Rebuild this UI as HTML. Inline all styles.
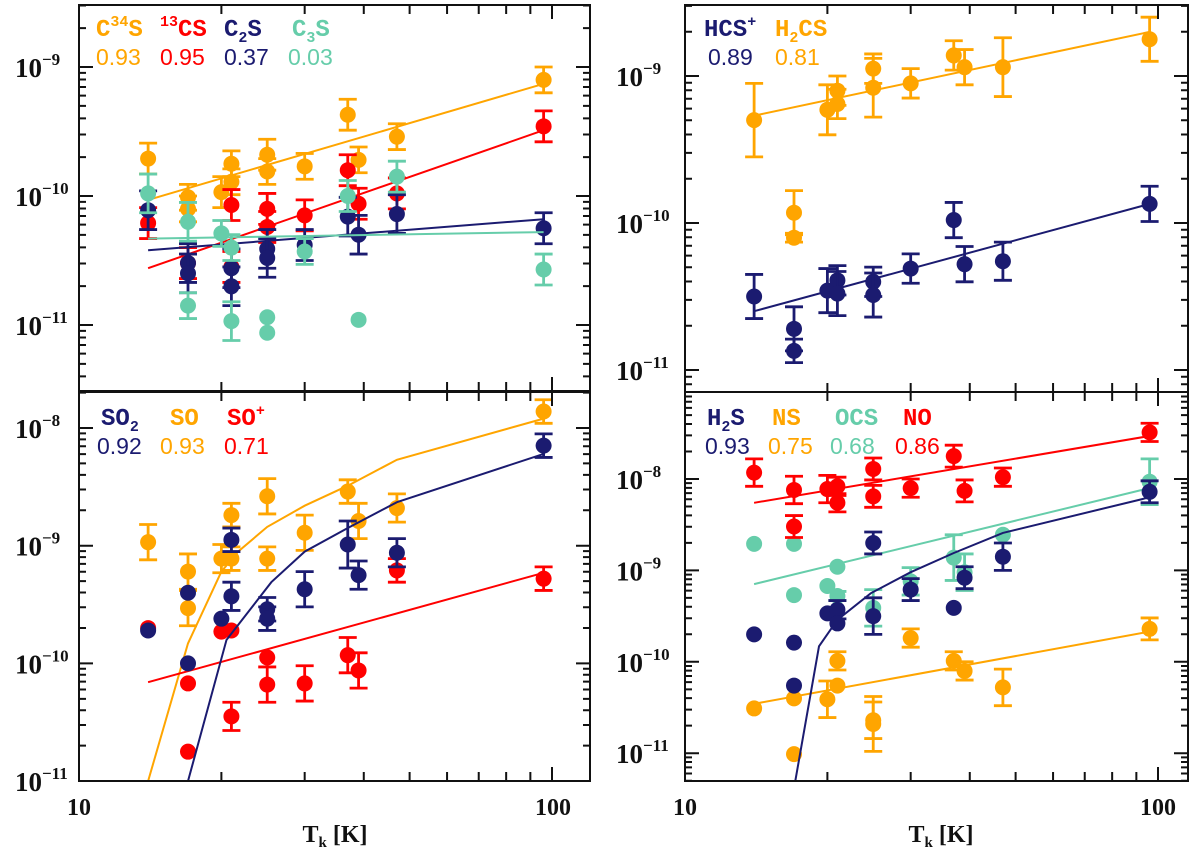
<!DOCTYPE html>
<html><head><meta charset="utf-8"><style>
html,body{margin:0;padding:0;background:#fff;}
svg{display:block;}
.nm{font-family:"Liberation Mono",monospace;font-size:24px;font-weight:bold;}
.num{font-family:"Liberation Sans",sans-serif;font-size:23px;}
.tick{font-family:"Liberation Serif",serif;font-weight:bold;font-size:24px;fill:#111;}
.ytick{font-family:"Liberation Serif",serif;font-weight:bold;font-size:27px;fill:#111;}
</style></head><body>
<svg id="chart" width="1200" height="852" viewBox="0 0 1200 852" xmlns="http://www.w3.org/2000/svg">
<g id="marks"></g>
<g id="legend">
 <text class="nm" x="96" y="36" fill="#FFA500">C<tspan dy="-10" font-size="15">34</tspan><tspan dy="10">S</tspan></text>
 <text class="nm" x="160" y="36" fill="#FF0000"><tspan dy="-10" font-size="15">13</tspan><tspan dy="10">CS</tspan></text>
 <text class="nm" x="224" y="36" fill="#1B1B70">C<tspan dy="6" font-size="15">2</tspan><tspan dy="-6">S</tspan></text>
 <text class="nm" x="292" y="36" fill="#66CDAA">C<tspan dy="6" font-size="15">3</tspan><tspan dy="-6">S</tspan></text>
 <text class="num" x="96" y="65" fill="#FFA500">0.93</text>
 <text class="num" x="160" y="65" fill="#FF0000">0.95</text>
 <text class="num" x="224" y="65" fill="#1B1B70">0.37</text>
 <text class="num" x="288" y="65" fill="#66CDAA">0.03</text>

 <text class="nm" x="704" y="36" fill="#1B1B70">HCS<tspan dy="-10" font-size="15">+</tspan></text>
 <text class="nm" x="775" y="36" fill="#FFA500">H<tspan dy="6" font-size="15">2</tspan><tspan dy="-6">CS</tspan></text>
 <text class="num" x="708" y="65" fill="#1B1B70">0.89</text>
 <text class="num" x="775" y="65" fill="#FFA500">0.81</text>

 <text class="nm" x="101" y="425" fill="#1B1B70">SO<tspan dy="6" font-size="15">2</tspan></text>
 <text class="nm" x="170" y="425" fill="#FFA500">SO</text>
 <text class="nm" x="227" y="425" fill="#FF0000">SO<tspan dy="-10" font-size="15">+</tspan></text>
 <text class="num" x="97" y="454" fill="#1B1B70">0.92</text>
 <text class="num" x="160" y="454" fill="#FFA500">0.93</text>
 <text class="num" x="224" y="454" fill="#FF0000">0.71</text>

 <text class="nm" x="707" y="425" fill="#1B1B70">H<tspan dy="6" font-size="15">2</tspan><tspan dy="-6">S</tspan></text>
 <text class="nm" x="772" y="425" fill="#FFA500">NS</text>
 <text class="nm" x="835" y="425" fill="#66CDAA">OCS</text>
 <text class="nm" x="903" y="425" fill="#FF0000">NO</text>
 <text class="num" x="705" y="454" fill="#1B1B70">0.93</text>
 <text class="num" x="768" y="454" fill="#FFA500">0.75</text>
 <text class="num" x="830" y="454" fill="#66CDAA">0.68</text>
 <text class="num" x="895" y="454" fill="#FF0000">0.86</text>
</g>
<text class="tick" x="79" y="815" text-anchor="middle">10</text>
<text class="tick" x="553" y="815" text-anchor="middle">100</text>
<text class="tick" x="685" y="815" text-anchor="middle">10</text>
<text class="tick" x="1158" y="815" text-anchor="middle">100</text>
<text class="tick" x="335" y="842" text-anchor="middle">T<tspan dy="5" font-size="15">k</tspan><tspan dy="-5"> [K]</tspan></text>
<text class="tick" x="941" y="842" text-anchor="middle">T<tspan dy="5" font-size="15">k</tspan><tspan dy="-5"> [K]</tspan></text>
</svg>
<script>
// ---- data (log10 abundance vs kinetic temperature) ----
const c34sT=[14,17,17,20,21,21,25,25,30,37,39,47,96];
const c34sY=[-9.71,-10.01,-10.10,-9.97,-9.75,-9.89,-9.68,-9.81,-9.77,-9.37,-9.72,-9.54,-9.10];
const c34sE=[0.12,0.1,0.1,0.12,0.1,0.1,0.12,0.1,0.1,0.12,0.1,0.1,0.1];
const c34sFitT=[14,96]; const c34sFitY=[-10.03,-9.13];
const cs13T=[14,17,21,21,25,25,30,37,39,47,96];
const cs13Y=[-10.21,-10.52,-10.07,-10.55,-10.10,-10.24,-10.15,-9.80,-10.06,-9.98,-9.46];
const cs13E=[0.12,0.12,0.12,0.12,0.12,0.12,0.12,0.12,0.12,0.12,0.12];
const cs13FitT=[14,96]; const cs13FitY=[-10.56,-9.49];
const c2sT=[14,17,17,21,21,25,25,30,37,39,47,96];
const c2sY=[-10.11,-10.52,-10.60,-10.56,-10.70,-10.41,-10.48,-10.38,-10.16,-10.30,-10.14,-10.25];
const c2sE=[0.15,0.15,0.15,0.15,0.15,0.15,0.15,0.12,0.15,0.15,0.15,0.12];
const c2sFitT=[14,96]; const c2sFitY=[-10.42,-10.18];
const c3sT=[14,17,17,20,21,21,25,25,30,37,39,47,96];
const c3sY=[-9.98,-10.20,-10.85,-10.29,-10.40,-10.97,-10.94,-11.06,-10.43,-10.00,-10.96,-9.85,-10.57];
const c3sE=[0.15,0.15,0.1,0.1,0.1,0.15,0,0,0.1,0.12,0,0.12,0.12];
const c3sFitT=[14,96]; const c3sFitY=[-10.33,-10.28];

const h2csT=[14,17,17,20,21,21,25,25,30,37,39,47,96];
const h2csY=[-9.30,-9.93,-10.10,-9.23,-9.10,-9.19,-8.95,-9.08,-9.05,-8.86,-8.94,-8.94,-8.75];
const h2csE=[0.25,0.15,0.03,0.17,0.1,0.1,0.1,0.2,0.1,0.1,0.12,0.2,0.15];
const h2csFitT=[14,96]; const h2csFitY=[-9.27,-8.70];
const hcsT=[14,17,17,20,21,21,25,25,30,37,39,47,96];
const hcsY=[-10.50,-10.72,-10.87,-10.46,-10.39,-10.48,-10.40,-10.49,-10.31,-9.98,-10.28,-10.26,-9.87];
const hcsE=[0.15,0.15,0.08,0.15,0.1,0.15,0.1,0.15,0.1,0.12,0.12,0.13,0.12];
const hcsFitT=[14,96]; const hcsFitY=[-10.60,-9.87];

const so2T=[14,17,17,20,21,21,25,25,30,37,39,47,96];
const so2Y=[-9.72,-9.40,-10.00,-9.62,-8.95,-9.43,-9.54,-9.62,-9.37,-8.99,-9.25,-9.06,-8.15];
const so2E=[0,0,0,0,0.1,0.12,0.1,0.1,0.15,0.2,0.12,0.12,0.1];
const so2FitT=[14,17,20.5,25.5,30,37,47,96]; const so2FitY=[-11.0,-11.0,-9.80,-9.31,-9.05,-8.85,-8.63,-8.22];
const soT=[14,17,17,20,21,21,25,25,30,37,39,47,96];
const soY=[-8.97,-9.22,-9.53,-9.11,-8.74,-9.11,-8.58,-9.11,-8.89,-8.54,-8.79,-8.68,-7.86];
const soE=[0.15,0.15,0.15,0.12,0.1,0.1,0.15,0.1,0.15,0.1,0.15,0.12,0.1];
const soFitT=[14,17,20,21.7,25,30,37,47,96]; const soFitY=[-11.0,-9.83,-9.22,-9.05,-8.84,-8.66,-8.49,-8.27,-7.92];
const sopT=[14,17,17,20,21,21,25,25,30,37,39,47,96];
const sopY=[-9.70,-10.17,-10.75,-9.73,-9.72,-10.45,-9.95,-10.18,-10.17,-9.93,-10.06,-9.21,-9.28];
const sopE=[0,0,0,0,0,0.12,0,0.15,0.15,0.15,0.15,0.1,0.1];
const sopFitT=[14,96]; const sopFitY=[-10.16,-9.23];

const noT=[14,17,17,20,21,21,25,25,30,37,39,47,96];
const noY=[-7.93,-8.12,-8.52,-8.11,-8.08,-8.26,-7.89,-8.19,-8.10,-7.75,-8.13,-7.98,-7.49];
const noE=[0.15,0.15,0.12,0.15,0.1,0.1,0.12,0.12,0.1,0.12,0.12,0.1,0.1];
const noFitT=[14,96]; const noFitY=[-8.26,-7.53];
const ocsT=[14,17,17,20,21,21,25,30,37,39,47,96];
const ocsY=[-8.71,-8.71,-9.27,-9.17,-8.96,-9.28,-9.41,-9.12,-8.86,-9.02,-8.61,-8.03];
const ocsE=[0,0,0,0,0,0.05,0.2,0.15,0.25,0.2,0,0.25];
const ocsFitT=[14,96]; const ocsFitY=[-9.15,-8.10];
const h2sT=[14,17,17,20,21,21,25,25,30,37,39,47,96];
const h2sY=[-9.70,-9.79,-10.26,-9.47,-9.43,-9.58,-8.70,-9.50,-9.21,-9.41,-9.08,-8.85,-8.14];
const h2sE=[0,0,0,0,0.1,0,0.12,0.2,0.12,0,0.12,0.15,0.12];
const h2sFitT=[14,17.1,19.2,21,24.7,30,37,47,96]; const h2sFitY=[-11.31,-11.31,-9.83,-9.54,-9.25,-9.02,-8.81,-8.59,-8.20];
const nsT=[14,17,17,20,21,21,25,25,30,37,39,47,96];
const nsY=[-10.51,-10.40,-11.01,-10.41,-9.99,-10.26,-10.64,-10.68,-9.74,-9.99,-10.10,-10.28,-9.64];
const nsE=[0,0,0,0.2,0.1,0,0.2,0.3,0.1,0.1,0.1,0.2,0.12];
const nsFitT=[14,96]; const nsFitY=[-10.46,-9.67];

const ORANGE='#FFA500', RED='#FF0000', NAVY='#1B1B70', TEAL='#66CDAA';
const NS='http://www.w3.org/2000/svg';
const root=document.getElementById('marks');
function mk(tag,attrs,parent){const e=document.createElementNS(NS,tag);for(const k in attrs)e.setAttribute(k,attrs[k]);(parent||root).appendChild(e);return e;}

const panels=[
 {key:'top-left',x0:79,x1:590,y0:5,y1:391,ref:67,refLog:-9,dec:129,minL:-12,maxL:-8,labels:[-9,-10,-11],lx:62},
 {key:'top-right',x0:685,x1:1188,y0:5,y1:392,ref:76,refLog:-9,dec:147,minL:-12,maxL:-8,labels:[-9,-10,-11],lx:663},
 {key:'bottom-left',x0:79,x1:590,y0:392,y1:781,ref:428,refLog:-8,dec:117.7,minL:-11,maxL:-7,labels:[-8,-9,-10,-11],lx:62},
 {key:'bottom-right',x0:685,x1:1188,y0:392,y1:781,ref:479,refLog:-8,dec:91.4,minL:-12,maxL:-7,labels:[-8,-9,-10,-11],lx:663}
];
panels.forEach(p=>{p.sx=t=>p.x0+473*Math.log10(t/10);p.sy=l=>p.ref-(l-p.refLog)*p.dec;});

function drawPanel(p,series){
 const g=mk('g',{});
 
 
 const cid='clip-'+p.key;
 const cp=mk('clipPath',{id:cid},g);mk('rect',{x:p.x0,y:p.y0,width:p.x1-p.x0,height:p.y1-p.y0},cp);
 const plot=mk('g',{'clip-path':'url(#'+cid+')'},g);
 series.forEach(s=>{
  const sg=mk('g',{},plot);
  
  
  let d='';s.fitT.forEach((t,i)=>{d+=(i?'L':'M')+p.sx(t).toFixed(1)+','+p.sy(s.fitY[i]).toFixed(1);});
  const ln=mk('path',{d:d,fill:'none',stroke:s.c,'stroke-width':2},sg);
  
  
  s.T.forEach((t,i)=>{
   const x=p.sx(t),y=p.sy(s.Y[i]),e=s.E[i];
   if(e>0){
    const ya=p.sy(s.Y[i]+e),yb=p.sy(s.Y[i]-e);
    const eb=mk('path',{d:`M${x},${ya}L${x},${yb}M${x-9},${ya}L${x+9},${ya}M${x-9},${yb}L${x+9},${yb}`,stroke:s.c,'stroke-width':2.8,fill:'none'},sg);
    
    
   }
   const c=mk('circle',{cx:x,cy:y,r:8,fill:s.c},sg);
   
   
  });
 });
 const ax=mk('g',{stroke:'#111','stroke-width':2,fill:'none'},g);
 
 
 mk('rect',{x:p.x0,y:p.y0,width:p.x1-p.x0,height:p.y1-p.y0},ax);
 let d='';
 [10,20,30,40,50,60,70,80,90,100].forEach(t=>{const x=p.sx(t);const L=(t===10||t===100)?14:9;
   d+=`M${x},${p.y1}L${x},${p.y1-L}M${x},${p.y0}L${x},${p.y0+L}`;});
 for(let dd=p.minL;dd<p.maxL;dd++){for(let m=1;m<10;m++){const l=dd+Math.log10(m);const y=p.sy(l);
   if(y<p.y0||y>p.y1)continue;const L=m===1?14:7;
   d+=`M${p.x0},${y}L${p.x0+L},${y}M${p.x1},${y}L${p.x1-L},${y}`;}}
 mk('path',{d:d},ax);
 p.labels.forEach(l=>{
  const tx=mk('text',{class:'ytick',x:p.lx-20,y:p.sy(l)+10,'text-anchor':'end'},g);
  
  
  tx.textContent='10';
  const sup=mk('tspan',{x:p.lx-20,dy:-12,'font-size':17,'text-anchor':'start'},tx);
  sup.textContent='\u2212'+(-l);
 });
}
drawPanel(panels[0],[
 {name:'c34s',c:ORANGE,T:c34sT,Y:c34sY,E:c34sE,fitT:c34sFitT,fitY:c34sFitY},
 {name:'13cs',c:RED,T:cs13T,Y:cs13Y,E:cs13E,fitT:cs13FitT,fitY:cs13FitY},
 {name:'c2s',c:NAVY,T:c2sT,Y:c2sY,E:c2sE,fitT:c2sFitT,fitY:c2sFitY},
 {name:'c3s',c:TEAL,T:c3sT,Y:c3sY,E:c3sE,fitT:c3sFitT,fitY:c3sFitY}]);
drawPanel(panels[1],[
 {name:'h2cs',c:ORANGE,T:h2csT,Y:h2csY,E:h2csE,fitT:h2csFitT,fitY:h2csFitY},
 {name:'hcs-plus',c:NAVY,T:hcsT,Y:hcsY,E:hcsE,fitT:hcsFitT,fitY:hcsFitY}]);
drawPanel(panels[2],[
 {name:'so',c:ORANGE,T:soT,Y:soY,E:soE,fitT:soFitT,fitY:soFitY},
 {name:'so-plus',c:RED,T:sopT,Y:sopY,E:sopE,fitT:sopFitT,fitY:sopFitY},
 {name:'so2',c:NAVY,T:so2T,Y:so2Y,E:so2E,fitT:so2FitT,fitY:so2FitY}]);
drawPanel(panels[3],[
 {name:'ocs',c:TEAL,T:ocsT,Y:ocsY,E:ocsE,fitT:ocsFitT,fitY:ocsFitY},
 {name:'ns',c:ORANGE,T:nsT,Y:nsY,E:nsE,fitT:nsFitT,fitY:nsFitY},
 {name:'h2s',c:NAVY,T:h2sT,Y:h2sY,E:h2sE,fitT:h2sFitT,fitY:h2sFitY},
 {name:'no',c:RED,T:noT,Y:noY,E:noE,fitT:noFitT,fitY:noFitY}]);
</script>
</body></html>
